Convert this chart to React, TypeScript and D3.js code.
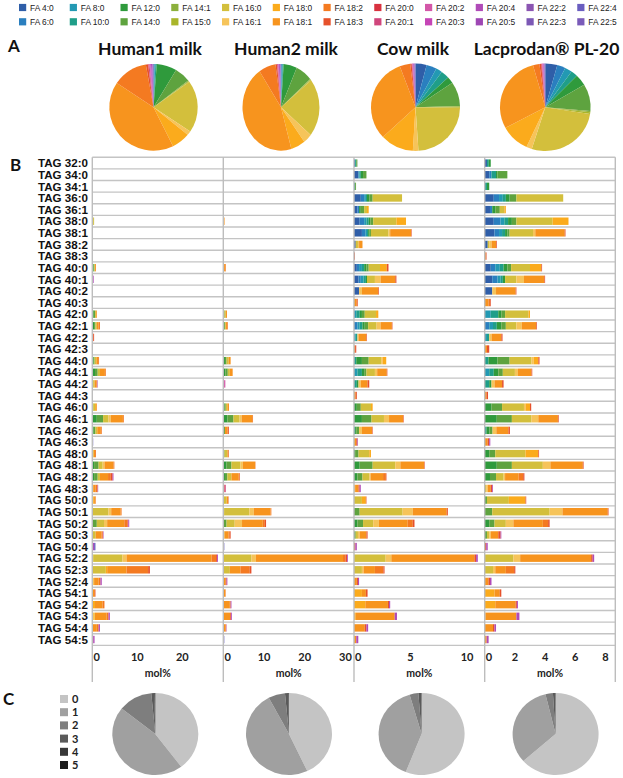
import React from "react";
import * as d3 from "d3";

type Seg = [string, number];

const FA_NAMES = ["4:0","6:0","8:0","10:0","12:0","14:0","14:1","15:0","16:0","16:1","18:0","18:1","18:2","18:3","20:0","20:1","20:2","20:3","20:4","20:5","22:2","22:3","22:4","22:5"];
const FA_COLORS = ["#2f5ea8","#2a7fbf","#2399b3","#1f9e89","#2f9a3c","#5ea33f","#8cb03c","#a9b52a","#d3bf3c","#f6c45a","#fbab1c","#f7941e","#f47a21","#e6512b","#d8323f","#d0467c","#d357a8","#c545b6","#b04bb8","#9e47b4","#8b55b2","#7c58b5","#6a5ec0","#7a5bb9"];

const TAG_LABELS = ["TAG 32:0","TAG 34:0","TAG 34:1","TAG 36:0","TAG 36:1","TAG 38:0","TAG 38:1","TAG 38:2","TAG 38:3","TAG 40:0","TAG 40:1","TAG 40:2","TAG 40:3","TAG 42:0","TAG 42:1","TAG 42:2","TAG 42:3","TAG 44:0","TAG 44:1","TAG 44:2","TAG 44:3","TAG 46:0","TAG 46:1","TAG 46:2","TAG 46:3","TAG 48:0","TAG 48:1","TAG 48:2","TAG 48:3","TAG 50:0","TAG 50:1","TAG 50:2","TAG 50:3","TAG 50:4","TAG 52:2","TAG 52:3","TAG 52:4","TAG 54:1","TAG 54:2","TAG 54:3","TAG 54:4","TAG 54:5"];

const PANEL_TITLES = ["Human1 milk", "Human2 milk", "Cow milk", "Lacprodan\u00AE PL-20"];

// Panel A: fatty acid composition (%), in FA_NAMES order
const HUMAN1_PIE = [0.2,0.2,0.3,0.5,7.4,5.9,0.3,0.3,19.5,1.6,6.8,42,12.9,0.8,0.1,0.4,0.3,0.3,0.4,0.1,0.1,0.1,0.1,0.1];
const HUMAN2_PIE = [0.2,0.2,0.3,0.4,5.6,7,0.3,0.3,21.7,3.7,6,45,7.1,0.6,0.1,0.3,0.2,0.2,0.4,0.1,0.1,0.1,0.1,0.1];
const COW_PIE = [4,3.7,2.3,3,2.4,9,0.3,0.3,23.6,2,12,31,3.8,0.5,0.1,0.2,0.1,0.2,0.3,0.1,0.1,0.1,0.1,0.1];
const LAC_PIE = [4.3,3,2.6,2.4,4.2,10,0.5,0.6,27.5,2,10.4,28.6,2.3,0.6,0.2,0.2,0.2,0.2,0.2,0.1,0.1,0.1,0.1,0.1];

// Panel B: TAG species, stacked FA contributions (mol%)
const HUMAN1_BARS: Seg[][] = [
  [],[],[],[],[],
  [["14:0",0.2],["16:0",0.2]],
  [],[],[],
  [["12:0",0.25],["14:0",0.2],["16:0",0.15],["18:1",0.2]],
  [["20:2",0.15],["20:4",0.15]],
  [],[],
  [["12:0",0.3],["14:0",0.3],["16:0",0.2],["18:1",0.2]],
  [["12:0",0.4],["14:0",0.3],["16:0",0.3],["18:1",0.4],["18:2",0.3]],
  [["18:2",0.2],["18:3",0.2]],
  [],
  [["12:0",0.3],["14:0",0.2],["16:0",0.4],["18:1",0.4],["18:2",0.2]],
  [["12:0",0.6],["14:0",0.6],["16:0",0.5],["18:1",1.1],["18:2",0.2]],
  [["14:0",0.2],["16:0",0.3],["18:1",0.4],["18:2",0.2],["20:4",0.1]],
  [],
  [["14:0",0.2],["16:0",0.4],["18:0",0.2],["18:1",0.2]],
  [["12:0",1.0],["14:0",1.4],["16:0",1.2],["16:1",0.5],["18:1",2.7],["18:2",0.2]],
  [["12:0",0.3],["14:0",0.4],["16:0",0.4],["18:1",0.8],["18:2",0.2]],
  [["22:4",0.2]],
  [["16:0",0.3],["18:1",0.3],["18:2",0.2]],
  [["12:0",0.4],["14:0",1.0],["16:0",0.9],["16:1",0.4],["18:1",2.0],["18:2",0.2]],
  [["12:0",0.4],["14:0",0.8],["16:0",0.5],["18:1",1.8],["18:2",0.6],["18:3",0.4],["20:4",0.2]],
  [["16:0",0.2],["18:1",0.5],["18:2",0.4],["18:3",0.1],["20:4",0.1]],
  [["16:0",0.2],["18:0",0.2],["18:1",0.3],["18:2",0.1]],
  [["15:0",0.1],["16:0",3.5],["16:1",0.6],["18:1",2.1],["18:2",0.2]],
  [["14:0",1.0],["16:0",1.6],["16:1",0.7],["18:1",3.8],["18:2",0.7],["18:3",0.2],["20:4",0.2]],
  [["14:0",0.15],["16:0",0.6],["18:1",1.3],["18:2",0.25],["18:3",0.1],["20:4",0.1]],
  [["20:4",0.4],["22:4",0.3]],
  [["15:0",0.2],["16:0",6.5],["16:1",0.9],["18:1",18.9],["18:2",1.0],["18:3",0.2],["20:4",0.2]],
  [["16:0",3.0],["18:0",0.3],["18:1",4.3],["18:2",4.8],["18:3",0.4]],
  [["16:1",0.4],["18:1",1.0],["18:2",0.4],["20:4",0.3]],
  [["18:1",0.4],["18:2",0.2],["18:3",0.1]],
  [["18:0",0.6],["18:1",1.7],["18:2",0.4]],
  [["16:1",0.6],["18:1",2.6],["18:2",0.4],["20:4",0.3]],
  [["18:1",1.0],["18:2",0.4],["20:4",0.3]],
  [["18:3",0.2],["20:4",0.3]],
];

const HUMAN2_BARS: Seg[][] = [
  [],[],[],[],[],
  [["16:0",0.15],["18:1",0.15]],
  [],[],[],
  [["16:0",0.2],["18:1",0.3],["18:2",0.15]],
  [],[],[],
  [["14:0",0.3],["16:0",0.3],["18:1",0.3]],
  [["12:0",0.2],["14:0",0.2],["16:0",0.2],["18:1",0.3],["18:2",0.2]],
  [],
  [],
  [["12:0",0.4],["14:0",0.4],["16:0",0.5],["18:1",0.5]],
  [["12:0",0.5],["14:0",0.6],["16:0",0.5],["18:1",0.7]],
  [["18:3",0.2],["20:2",0.3]],
  [],
  [["12:0",0.3],["14:0",0.3],["16:0",0.4],["18:1",0.4]],
  [["12:0",1.0],["14:0",1.5],["16:0",1.5],["16:1",0.5],["18:1",2.6],["18:2",0.2]],
  [["14:0",0.4],["18:1",0.6],["18:2",0.2],["18:3",0.2]],
  [],
  [["14:0",0.3],["16:0",0.7],["18:1",0.3],["18:3",0.1]],
  [["12:0",0.8],["14:0",1.2],["16:0",2.2],["16:1",0.6],["18:1",3.0],["18:2",0.1]],
  [["12:0",0.4],["14:0",0.6],["16:0",1.0],["18:1",1.8],["18:2",0.2],["18:3",0.1]],
  [["18:3",0.3],["20:1",0.3]],
  [["16:0",0.8],["18:1",0.4],["18:3",0.1]],
  [["15:0",0.2],["16:0",6.2],["16:1",1.1],["18:1",4.1],["18:2",0.2]],
  [["14:0",0.8],["16:0",2.0],["16:1",1.8],["18:1",5.1],["18:2",0.5],["18:3",0.3]],
  [["16:0",0.3],["18:1",1.0],["18:2",0.3],["18:3",0.2]],
  [["22:4",0.25]],
  [["16:0",6.9],["16:1",1.1],["18:1",21.4],["18:2",0.6],["18:3",0.4],["20:4",0.2]],
  [["16:0",1.6],["18:1",2.6],["18:2",2.3],["18:3",0.4]],
  [["18:1",0.6],["18:3",0.2],["20:4",0.2]],
  [["18:1",0.5],["18:2",0.1]],
  [["18:1",1.6],["18:2",0.2],["20:4",0.2]],
  [["18:1",1.7],["18:3",0.2],["20:4",0.2]],
  [["18:1",0.5],["18:2",0.2],["20:4",0.1]],
  [["22:4",0.25]],
];

const COW_BARS: Seg[][] = [
  [["4:0",0.1],["10:0",0.1],["14:0",0.1]],
  [["4:0",0.4],["8:0",0.1],["10:0",0.1],["12:0",0.2],["14:0",0.3]],
  [["10:0",0.1],["14:0",0.08]],
  [["4:0",0.6],["6:0",0.3],["8:0",0.15],["10:0",0.1],["12:0",0.2],["14:0",0.3],["16:0",2.6]],
  [["4:0",0.3],["6:0",0.15],["12:0",0.15],["14:0",0.3],["16:0",0.25],["18:0",0.15]],
  [["4:0",0.5],["6:0",0.4],["8:0",0.2],["10:0",0.2],["12:0",0.15],["14:0",0.25],["16:0",2.05],["18:0",0.85]],
  [["4:0",0.7],["6:0",0.3],["8:0",0.15],["10:0",0.1],["12:0",0.1],["14:0",0.15],["16:0",1.55],["16:1",0.15],["18:1",1.85],["18:3",0.05]],
  [["4:0",0.15],["16:0",0.2],["16:1",0.1],["18:1",0.3]],
  [["18:3",0.08]],
  [["4:0",0.25],["6:0",0.2],["8:0",0.25],["10:0",0.2],["12:0",0.2],["14:0",0.2],["16:0",1.0],["18:0",0.6],["18:3",0.15]],
  [["4:0",0.4],["6:0",0.2],["8:0",0.25],["10:0",0.2],["12:0",0.1],["16:0",0.7],["16:1",0.5],["18:1",1.3],["18:3",0.1]],
  [["4:0",0.45],["16:1",0.25],["18:1",1.45],["18:3",0.06]],
  [["18:1",0.2],["18:2",0.1],["18:3",0.05]],
  [["8:0",0.2],["10:0",0.3],["12:0",0.2],["14:0",0.25],["16:0",1.0],["18:0",0.2]],
  [["6:0",0.3],["8:0",0.2],["10:0",0.25],["12:0",0.2],["14:0",0.3],["16:0",0.75],["16:1",0.35],["18:1",1.0],["18:3",0.05]],
  [["8:0",0.15],["10:0",0.15],["16:1",0.1],["18:1",0.7],["18:3",0.05]],
  [["18:1",0.1],["18:3",0.1]],
  [["10:0",0.2],["12:0",0.5],["14:0",0.6],["16:0",1.1],["16:1",0.15],["18:0",0.3]],
  [["8:0",0.3],["10:0",0.4],["12:0",0.2],["14:0",0.2],["16:0",0.75],["16:1",0.2],["18:1",0.85],["18:3",0.05]],
  [["10:0",0.25],["12:0",0.15],["16:1",0.2],["18:1",0.6],["18:3",0.15]],
  [["18:1",0.15],["18:3",0.1]],
  [["12:0",0.25],["14:0",0.35],["16:0",0.9],["18:0",0.15]],
  [["12:0",0.7],["14:0",0.85],["16:0",1.1],["16:1",0.45],["18:1",1.25],["18:3",0.05]],
  [["10:0",0.1],["12:0",0.1],["14:0",0.25],["16:1",0.25],["18:1",0.9],["18:3",0.05]],
  [["18:1",0.2],["18:3",0.1],["20:4",0.05]],
  [["12:0",0.1],["14:0",0.3],["16:0",0.95],["18:0",0.15]],
  [["12:0",0.5],["14:0",1.15],["16:0",2.0],["16:1",0.45],["18:1",2.1],["18:3",0.05]],
  [["12:0",0.3],["14:0",0.45],["16:0",0.6],["16:1",0.12],["18:1",1.1],["18:2",0.25],["18:3",0.05]],
  [["16:1",0.1],["18:1",0.3],["18:3",0.1],["20:4",0.1]],
  [["16:0",0.7],["18:0",0.35],["18:3",0.05]],
  [["14:0",0.5],["16:0",3.8],["16:1",0.9],["18:1",3.0],["18:3",0.1]],
  [["12:0",0.3],["14:0",0.5],["16:0",0.9],["16:1",0.5],["18:1",2.55],["18:2",0.45],["18:3",0.15]],
  [["14:0",0.15],["16:0",0.2],["16:1",0.15],["18:1",0.6],["18:3",0.1]],
  [["18:3",0.12],["20:4",0.13]],
  [["16:0",2.8],["16:1",0.5],["18:1",7.35],["18:3",0.15],["20:4",0.15]],
  [["16:0",0.7],["16:1",0.15],["18:1",1.0],["18:2",0.75],["18:3",0.1]],
  [["18:1",0.25],["18:3",0.1],["20:4",0.1]],
  [["18:0",0.7],["18:1",0.35],["18:3",0.15]],
  [["18:0",1.0],["18:1",2.0],["18:3",0.1],["20:4",0.1]],
  [["18:0",0.15],["18:1",3.45],["20:4",0.2]],
  [["18:1",0.95],["18:3",0.15],["20:4",0.15]],
  [["18:1",0.2],["20:4",0.18]],
];

const LAC_BARS: Seg[][] = [
  [["4:0",0.15],["10:0",0.12],["12:0",0.13]],
  [["4:0",0.3],["6:0",0.15],["10:0",0.3],["12:0",0.1],["14:0",0.65]],
  [["10:0",0.15],["12:0",0.15]],
  [["4:0",0.6],["6:0",0.35],["8:0",0.25],["10:0",0.2],["12:0",0.25],["14:0",0.45],["16:0",3.1]],
  [["4:0",0.35],["6:0",0.15],["12:0",0.2],["14:0",0.3],["16:0",0.3],["18:0",0.1]],
  [["4:0",0.6],["6:0",0.45],["8:0",0.25],["10:0",0.25],["12:0",0.25],["14:0",0.3],["16:0",2.4],["18:0",1.05]],
  [["4:0",0.65],["6:0",0.3],["8:0",0.2],["10:0",0.2],["12:0",0.15],["14:0",0.15],["16:0",1.55],["16:1",0.15],["18:1",1.95],["18:3",0.05]],
  [["4:0",0.2],["16:0",0.1],["16:1",0.15],["18:1",0.3],["18:3",0.05]],
  [["18:1",0.07],["18:3",0.05]],
  [["4:0",0.4],["6:0",0.3],["8:0",0.3],["10:0",0.25],["12:0",0.25],["14:0",0.25],["16:0",1.25],["18:0",0.75],["18:3",0.05]],
  [["4:0",0.5],["6:0",0.35],["8:0",0.2],["10:0",0.15],["12:0",0.15],["16:0",0.75],["16:1",0.5],["18:1",1.35],["18:3",0.05]],
  [["4:0",0.5],["16:1",0.25],["18:1",1.3],["18:3",0.05]],
  [["18:1",0.25],["18:2",0.1],["18:3",0.05]],
  [["8:0",0.4],["10:0",0.5],["12:0",0.2],["14:0",0.25],["16:0",1.55],["18:0",0.1]],
  [["6:0",0.3],["8:0",0.25],["10:0",0.25],["12:0",0.3],["14:0",0.3],["16:0",0.7],["16:1",0.35],["18:1",0.95],["18:3",0.05]],
  [["8:0",0.15],["10:0",0.15],["16:1",0.15],["18:1",0.65],["18:3",0.08]],
  [["18:1",0.15],["18:3",0.15]],
  [["10:0",0.25],["12:0",0.6],["14:0",0.8],["16:0",1.45],["16:1",0.15],["18:0",0.3],["18:3",0.08]],
  [["8:0",0.3],["10:0",0.3],["12:0",0.3],["14:0",0.3],["16:0",0.8],["16:1",0.2],["18:1",0.9],["18:3",0.05]],
  [["10:0",0.3],["12:0",0.15],["16:1",0.2],["18:1",0.5],["18:3",0.1]],
  [["18:1",0.12],["18:3",0.1]],
  [["12:0",0.45],["14:0",0.7],["16:0",1.45],["16:1",0.1],["18:0",0.3],["18:3",0.08]],
  [["12:0",0.8],["14:0",1.0],["16:0",1.3],["16:1",0.45],["18:1",1.3],["18:3",0.05]],
  [["10:0",0.12],["12:0",0.2],["14:0",0.2],["16:1",0.25],["18:1",0.8],["18:3",0.1]],
  [["18:1",0.2],["18:3",0.1],["20:4",0.07]],
  [["12:0",0.3],["14:0",0.4],["16:0",2.0],["18:0",0.85],["18:3",0.05]],
  [["12:0",0.8],["14:0",1.0],["16:0",2.05],["16:1",0.5],["18:1",2.15],["18:3",0.05]],
  [["12:0",0.35],["14:0",0.4],["16:0",0.5],["16:1",0.1],["18:1",0.9],["18:2",0.3],["18:3",0.08]],
  [["16:0",0.1],["16:1",0.1],["18:1",0.2],["18:3",0.1],["20:4",0.05]],
  [["14:0",0.15],["16:0",1.45],["18:0",1.1],["18:3",0.05]],
  [["14:0",0.5],["16:0",3.8],["16:1",0.85],["18:1",3.0],["18:3",0.05]],
  [["12:0",0.3],["14:0",0.35],["16:0",0.75],["16:1",0.5],["18:1",1.95],["18:2",0.35],["18:3",0.1]],
  [["14:0",0.15],["16:0",0.15],["16:1",0.1],["18:1",0.5],["18:3",0.15],["20:4",0.05]],
  [["18:3",0.1],["20:4",0.1]],
  [["16:0",1.9],["16:1",0.45],["18:1",4.7],["18:3",0.1],["20:4",0.1]],
  [["16:0",0.55],["16:1",0.15],["18:1",0.7],["18:2",0.55],["18:3",0.08]],
  [["18:1",0.25],["18:3",0.1],["20:4",0.1]],
  [["18:0",0.65],["18:1",0.35],["18:3",0.1]],
  [["18:0",0.7],["18:1",1.35],["18:3",0.08],["20:4",0.07]],
  [["18:0",0.05],["18:1",2.05],["20:4",0.2]],
  [["18:1",0.55],["18:3",0.1],["20:4",0.1]],
  [["18:1",0.13],["20:4",0.13]],
];

const PANEL_MAX = [29.1, 32.1, 11.56, 8.65];
const PANEL_TICKS = [[0, 10, 20], [0, 10, 20, 30], [0, 5, 10], [0, 2, 4, 6, 8]];
const AXIS_TITLE = "mol%";

// Panel C: number of double bonds distribution (%)
const DB_LABELS = ["0", "1", "2", "3", "4", "5"];
const DB_COLORS = ["#c4c4c4", "#a0a0a0", "#7e7e7e", "#5a5a5a", "#383838", "#1c1c1c"];
const C_HUMAN1 = [39.7, 46, 12.8, 1.1, 0.3, 0.1];
const C_HUMAN2 = [43, 49.2, 6.3, 1.2, 0.2, 0.1];
const C_COW = [56, 39.5, 3.3, 1, 0.15, 0.05];
const C_LAC = [63.5, 32.7, 2.8, 0.8, 0.15, 0.05];

const FONT_ARIAL = "'Liberation Sans', Arial, sans-serif";
const FONT_CAL = "Lato, 'Open Sans', sans-serif";

function EllipsePie({ values, colors, cx, cy, rx, ry }: { values: number[]; colors: string[]; cx: number; cy: number; rx: number; ry: number }) {
  const arcs = d3.pie<number>().sort(null).value((d) => d)(values);
  const arc = d3.arc<d3.PieArcDatum<number>>().innerRadius(0).outerRadius(ry);
  return (
    <g transform={`translate(${cx},${cy}) scale(${rx / ry},1)`}>
      {arcs.map((a, i) => (
        <path key={i} d={arc(a) || ""} fill={colors[i]} />
      ))}
    </g>
  );
}

export default function App() {
  const W = 623, H = 778;
  const color = d3.scaleOrdinal<string, string>().domain(FA_NAMES).range(FA_COLORS);

  const panelX = [92.3, 223.3, 354, 484.7];
  const panelRight = 615.3;
  const rowTop = 157.3, rowH = 11.62;
  const yBand = d3.scaleBand<string>().domain(TAG_LABELS).range([rowTop, rowTop + rowH * TAG_LABELS.length]);
  const gridBottom = rowTop + rowH * TAG_LABELS.length;
  const axisBottom = 682;
  const barH = 7.4;

  const allBars = [HUMAN1_BARS, HUMAN2_BARS, COW_BARS, LAC_BARS];
  const panelEnds = [panelX[1], panelX[2], panelX[3], panelRight];
  const xScales = panelX.map((x0, i) => d3.scaleLinear().domain([0, PANEL_MAX[i]]).range([x0, panelEnds[i]]));

  const aPies = [
    { v: HUMAN1_PIE, cx: 153.5, cy: 107.3, rx: 44.2, ry: 43.4 },
    { v: HUMAN2_PIE, cx: 281, cy: 107.3, rx: 38.5, ry: 43.4 },
    { v: COW_PIE, cx: 415.5, cy: 107.2, rx: 44.5, ry: 43.7 },
    { v: LAC_PIE, cx: 545.3, cy: 107.2, rx: 45.3, ry: 43.7 },
  ];
  const titleX = [150, 286, 413, 546.5];
  const cPies = [
    { v: C_HUMAN1, cx: 155.3 },
    { v: C_HUMAN2, cx: 289 },
    { v: C_COW, cx: 421.6 },
    { v: C_LAC, cx: 555.6 },
  ];

  const gridColor = "#c4c4c4";

  return (
    <svg width={W} height={H} style={{ position: "absolute", left: 0, top: 0, background: "#fff" }} xmlns="http://www.w3.org/2000/svg">
      <rect x={0} y={0} width={W} height={H} fill="#fff" />
      {/* Legend */}
      {FA_NAMES.map((n, i) => {
        const col = Math.floor(i / 2), row = i % 2;
        const x = 19 + col * 50.75;
        const y = row === 0 ? 7.5 : 21.8;
        return (
          <g key={n}>
            <rect x={x} y={y - 3.6} width={7.2} height={7.2} fill={color(n)} />
            <text x={x + 11} y={y + 3} fontFamily={FONT_ARIAL} fontSize={8.4} fill="#222">{`FA ${n}`}</text>
          </g>
        );
      })}

      {/* Panel labels */}
      <text x={8} y={52} fontFamily={FONT_CAL} fontWeight={700} fontSize={17} fill="#111">A</text>
      <text x={10} y={171} fontFamily={FONT_CAL} fontWeight={700} fontSize={17} fill="#111">B</text>
      <text x={3} y={705} fontFamily={FONT_CAL} fontWeight={700} fontSize={17} fill="#111">C</text>

      {/* Titles + A pies */}
      {PANEL_TITLES.map((t, i) => (
        <text key={t} x={titleX[i]} y={55} textAnchor="middle" fontFamily={FONT_CAL} fontWeight={700} fontSize={17.5} fill="#111">{t}</text>
      ))}
      {aPies.map((p, i) => (
        <EllipsePie key={i} values={p.v} colors={FA_NAMES.map((n) => color(n))} cx={p.cx} cy={p.cy} rx={p.rx} ry={p.ry} />
      ))}

      {/* Panel B grid */}
      {TAG_LABELS.map((t) => (
        <line key={"h" + t} x1={panelX[0]} x2={panelRight} y1={yBand(t)!} y2={yBand(t)!} stroke={gridColor} strokeWidth={1.4} />
      ))}
      <line x1={panelX[0]} x2={panelRight} y1={gridBottom} y2={gridBottom} stroke={gridColor} strokeWidth={1.4} />

      {/* Bars */}
      {allBars.map((bars, p) => (
        <g key={"p" + p}>
          {bars.map((segs, r) => {
            let acc = 0;
            const yy = yBand(TAG_LABELS[r])! + (rowH - barH) / 2;
            return segs.map(([fa, v], k) => {
              const x0 = xScales[p](acc);
              acc += v;
              const x1 = xScales[p](acc);
              return <rect key={r + "-" + k} x={x0} y={yy} width={Math.max(0, x1 - x0)} height={barH} fill={color(fa)} />;
            });
          })}
        </g>
      ))}

      {/* Vertical panel lines */}
      {[...panelX, panelRight].map((x, i) => (
        <line key={"v" + i} x1={x} x2={x} y1={rowTop} y2={axisBottom} stroke="#bdbdbd" strokeWidth={1.4} />
      ))}

      {/* Row labels */}
      {TAG_LABELS.map((t) => (
        <text key={"l" + t} x={88} y={yBand(t)! + rowH / 2 + 4.2} textAnchor="end" fontFamily={FONT_ARIAL} fontWeight={700} fontSize={11.6} fill="#111">{t}</text>
      ))}

      {/* Axes */}
      {xScales.map((xs, p) => (
        <g key={"ax" + p}>
          {PANEL_TICKS[p].map((tv) => (
            <text key={tv} x={tv === 0 ? xs(tv) + 4.3 : xs(tv)} y={660.5} textAnchor="middle" fontFamily={FONT_CAL} fontWeight={700} fontSize={11} fill="#222">{String(tv)}</text>
          ))}
          <text x={(xs.range()[0] + xs.range()[1]) / 2} y={677} textAnchor="middle" fontFamily={FONT_CAL} fontWeight={700} fontSize={10.5} fill="#222">{AXIS_TITLE}</text>
        </g>
      ))}

      {/* Panel C legend */}
      {DB_LABELS.map((d, i) => {
        const y = 699 + i * 13.2;
        return (
          <g key={"db" + d}>
            <rect x={60} y={y - 4} width={8} height={8} fill={DB_COLORS[i]} />
            <text x={72} y={y + 4} fontFamily={FONT_CAL} fontWeight={700} fontSize={11} fill="#222">{d}</text>
          </g>
        );
      })}
      {cPies.map((p, i) => (
        <EllipsePie key={"c" + i} values={p.v} colors={DB_COLORS} cx={p.cx} cy={734} rx={43} ry={41} />
      ))}
    </svg>
  );
}
